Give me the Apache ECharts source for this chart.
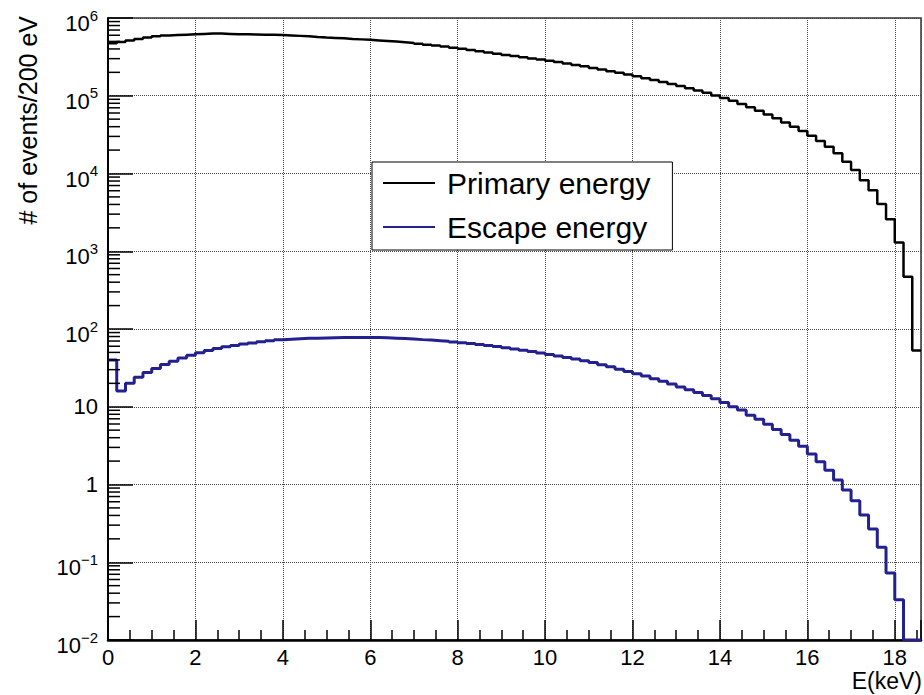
<!DOCTYPE html>
<html><head><meta charset="utf-8">
<script src="https://cdn.jsdelivr.net/npm/echarts@6/dist/echarts.min.js"></script>
<style>html,body{margin:0;padding:0;background:#fff}#c{width:924px;height:695px}</style>
</head><body><div id="c"></div>
<script>
// ---- data ----
const binWidth = 0.2;            // keV per bin (200 eV)
const xMin = 0, xMax = 18.6;
const yMin = 0.01, yMax = 1e6;
const xTickValues = [0, 2, 4, 6, 8, 10, 12, 14, 16, 18];
const yTickExponents = [-2, -1, 0, 1, 2, 3, 4, 5, 6];
const seriesNames = ['Primary energy', 'Escape energy'];

const primaryCounts = [
  473000, 490000, 513000, 537000, 562000,
  582000, 596000, 603000, 610000, 617000,
  624000, 631000, 631000, 624000, 617000,
  617000, 614000, 611000, 607000, 603000,
  597000, 589000, 581000, 571000, 562000,
  555000, 547000, 538000, 531000, 524000,
  515000, 506000, 497000, 488000, 478000,
  467000, 454000, 442000, 429000, 415000,
  401000, 387000, 373000, 360000, 347000,
  335000, 324000, 313000, 302000, 292000,
  282000, 271000, 260000, 249000, 239000,
  228000, 218000, 207000, 197000, 188000,
  178000, 168000, 159000, 150000, 142000,
  133000, 125000, 117000, 109000, 101000,
  93800, 86100, 78500, 71300, 64300,
  57500, 51300, 45300, 39800, 35200,
  30600, 26200, 22100, 18200, 14200,
  11100, 8200, 6100, 4050, 2580,
  1300, 471, 53
];

const escapeCounts = [
  40, 16, 20, 24, 27.5,
  31, 35, 38.5, 42.5, 46,
  49.5, 53, 56, 59, 61.5,
  64, 66, 68.5, 70.5, 72.5,
  74, 75, 75.8, 76.3, 76.8,
  77.3, 77.7, 78, 78, 78,
  77.8, 77.2, 76.3, 75.3, 74.3,
  73, 72, 70.8, 69.5, 68,
  66.5, 65, 63.3, 61.5, 59.5,
  57.5, 55.5, 53.3, 51.2, 49,
  47, 45, 43, 41, 39,
  37, 34.8, 32.6, 30.4, 28.3,
  26.5, 24.8, 23, 21.3, 19.6,
  18, 16.6, 15.3, 14, 12.7,
  11.3, 10.0, 9.1, 7.8, 6.9,
  5.94, 5.1, 4.4, 3.7, 3.1,
  2.47, 1.96, 1.53, 1.14, 0.85,
  0.62, 0.405, 0.268, 0.156, 0.073,
  0.033, 0, 0
];

// ---- build ----
function histSteps(counts) {
  const d = counts.map((v, i) => [+(i * binWidth).toFixed(4), Math.max(v, yMin)]);
  d.push([xMax, Math.max(counts[counts.length - 1], yMin)]);
  return d;
}
const yMinorTicks = [];
for (let e = yTickExponents[0]; e < yTickExponents[yTickExponents.length - 1]; e++) {
  for (let m = 2; m <= 9; m++) yMinorTicks.push([xMin, m * Math.pow(10, e)]);
}
const FONT = '"Liberation Sans", Arial, Helvetica, sans-serif';
const supMinus = s => String(s).replace('-', '\u2212');

const chart = echarts.init(document.getElementById('c'), null, { renderer: 'svg' });
chart.setOption({
  animation: false,
  backgroundColor: '#fff',
  textStyle: { fontFamily: FONT, color: '#000' },
  grid: { left: 108, top: 18, width: 815, height: 622, show: true, borderColor: '#333', borderWidth: 1.5 },
  legend: {
    data: seriesNames, left: 372, top: 162, orient: 'vertical', icon: 'rect',
    itemWidth: 52, itemHeight: 2, itemGap: 14, padding: [6, 22, 8, 11],
    backgroundColor: '#fff', borderColor: '#000', borderWidth: 1, selectedMode: false,
    textStyle: { fontFamily: FONT, fontSize: 30, color: '#000', lineHeight: 30, padding: [0, 0, 0, 7] }
  },
  xAxis: {
    type: 'value', min: xMin, max: xMax, interval: 2,
    axisLine: { onZero: false, lineStyle: { color: '#000', width: 2.5 } },
    axisTick: { inside: true, length: 20, lineStyle: { color: '#000', width: 1.5 } },
    minorTick: { show: true, splitNumber: 4, length: 10, lineStyle: { color: '#000', width: 1.5 } },
    axisLabel: {
      margin: 6, fontSize: 22, color: '#000', fontFamily: FONT,
      formatter: v => (xTickValues.some(t => Math.abs(t - v) < 1e-6) ? String(v) : '')
    },
    splitLine: { show: true, lineStyle: { type: 'dotted', color: '#444', width: 1 } }
  },
  yAxis: {
    type: 'log', logBase: 10, min: yMin, max: yMax, splitNumber: 8,
    axisLine: { show: true, onZero: false, lineStyle: { color: '#000', width: 2 } },
    axisTick: { show: true, inside: true, length: 25, lineStyle: { color: '#000', width: 1.5 } },
    axisLabel: {
      margin: 10, fontSize: 22, color: '#000', fontFamily: FONT,
      formatter: v => {
        const e = Math.round(Math.log10(v));
        if (e === 0) return '1';
        if (e === 1) return '10';
        return '{b|10}{s|' + supMinus(e) + '}';
      },
      rich: {
        b: { fontSize: 22, fontFamily: FONT, color: '#000', padding: [11, 0, 0, 0], verticalAlign: 'middle' },
        s: { fontSize: 15, fontFamily: FONT, color: '#000', padding: [0, 0, 6, 0], verticalAlign: 'middle' }
      }
    },
    splitLine: { show: true, lineStyle: { type: 'dotted', color: '#444', width: 1 } }
  },
  series: [
    {
      name: seriesNames[0], type: 'line', step: 'end', showSymbol: false, symbol: 'none',
      data: histSteps(primaryCounts), lineStyle: { color: '#000', width: 2.5 }, itemStyle: { color: '#000' }, z: 4
    },
    {
      name: seriesNames[1], type: 'line', step: 'end', showSymbol: false, symbol: 'none',
      data: histSteps(escapeCounts), lineStyle: { color: '#23208f', width: 3 }, itemStyle: { color: '#23208f' }, z: 4
    },
    {
      type: 'custom', silent: true, clip: false, z: 6, data: yMinorTicks,
      renderItem: (params, api) => {
        const p = api.coord([api.value(0), api.value(1)]);
        return { type: 'line', shape: { x1: p[0], y1: p[1], x2: p[0] + 12, y2: p[1] }, style: { stroke: '#000', lineWidth: 1.5 } };
      }
    }
  ],
  graphic: [
    { type: 'text', x: 28, y: 16, rotation: Math.PI / 2,
      style: { text: '# of events/200 eV', fontSize: 25, fontFamily: FONT, fill: '#000', align: 'right', verticalAlign: 'middle' } },
    { type: 'text', x: 922, y: 681,
      style: { text: 'E(keV)', fontSize: 23, fontFamily: FONT, fill: '#000', align: 'right', verticalAlign: 'middle' } }
  ]
});
</script></body></html>
